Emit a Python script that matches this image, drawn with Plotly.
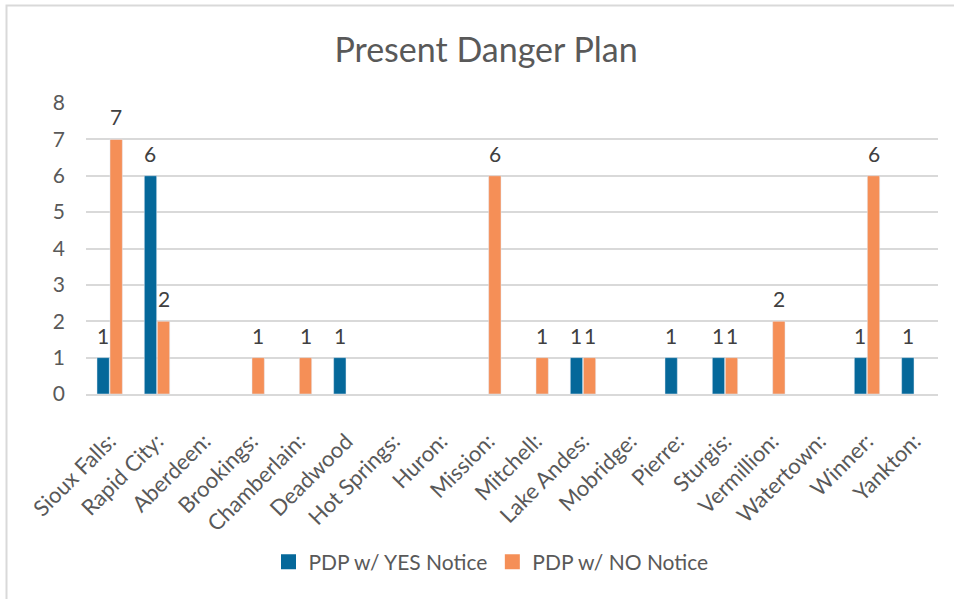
import plotly.graph_objects as go

categories = ["Sioux Falls:", "Rapid City:", "Aberdeen:", "Brookings:", "Chamberlain:", "Deadwood",
              "Hot Springs:", "Huron:", "Mission:", "Mitchell:", "Lake Andes:", "Mobridge:",
              "Pierre:", "Sturgis:", "Vermillion:", "Watertown:", "Winner:", "Yankton:"]
yes_notice = [1, 6, None, None, None, 1, None, None, None, None, 1, None, 1, 1, None, None, 1, 1]
no_notice = [7, 2, None, 1, 1, None, None, None, 6, 1, 1, None, None, 1, 2, None, 6, None]
series_names = ["PDP w/ YES Notice", "PDP w/ NO Notice"]
series_colors = ["#05689A", "#F58F57"]
title_text = "Present Danger Plan"

W, H = 954, 599
L, R, T, B = 86, 938, 103, 394
BARGAP, GROUPGAP = 0.45, 0.05

font_family = "Lato, 'Open Sans', sans-serif"

fig = go.Figure()
for vals, name, col in zip([yes_notice, no_notice], series_names, series_colors):
    fig.add_trace(go.Bar(x=categories, y=vals, name=name, marker_color=col,
                         showlegend=False, hoverinfo="x+y+name"))
    # legend entries with square swatches
    fig.add_trace(go.Scatter(x=[None], y=[None], mode="markers", name=name,
                             marker=dict(symbol="square", size=15, color=col)))

def px(x):
    return (x - L) / (R - L)

def py(y):
    return (B - y) / (B - T)

# data labels placed at data coordinates of each bar
cat_w = (R - L) / len(categories)
off = cat_w * (1 - BARGAP) / 4
annotations = []
for vals, sign in [(yes_notice, -1), (no_notice, 1)]:
    for c, v in zip(categories, vals):
        if v is None:
            continue
        annotations.append(dict(x=c, y=v, xref="x", yref="y", text=str(v), showarrow=False,
                                xanchor="center", yanchor="bottom", xshift=sign * off, yshift=8,
                                font=dict(size=21, color="#404040", family=font_family)))

fig.update_layout(
    width=W, height=H, autosize=False,
    margin=dict(l=L, r=W - R, t=T, b=H - B, autoexpand=False),
    paper_bgcolor="white", plot_bgcolor="white",
    font=dict(family=font_family, color="#595959", size=20),
    title=dict(text=title_text, x=486 / W, xref="container", y=1 - 50 / H, yref="container",
               xanchor="center", yanchor="middle",
               font=dict(size=34, color="#595959", family=font_family)),
    barmode="group", bargap=BARGAP, bargroupgap=GROUPGAP,
    xaxis=dict(tickangle=-45, showgrid=False, showline=True, linecolor="#D9D9D9", linewidth=1.5,
               ticks="", ticklabelstandoff=24, tickfont=dict(size=22, color="#595959"),
               fixedrange=True, automargin=False),
    yaxis=dict(range=[0, 8], dtick=1, showgrid=True, gridcolor="#D9D9D9", gridwidth=1.5,
               zeroline=False, showline=False, ticks="", ticklabelstandoff=20,
               tickfont=dict(size=21, color="#595959"), fixedrange=True, automargin=False),
    legend=dict(orientation="h", x=px(491), xanchor="center",
                y=py(562), yanchor="middle", itemsizing="trace",
                font=dict(size=21, color="#595959"), itemwidth=30, traceorder="normal"),
    annotations=annotations,
    shapes=[dict(type="rect", xref="paper", yref="paper",
                 x0=px(6.5), x1=px(970), y0=py(620), y1=py(5.5),
                 line=dict(color="#D9D9D9", width=2), fillcolor="rgba(0,0,0,0)", layer="below")],
)

fig.write_html("out.html", config={"displayModeBar": False},
               post_script="document.body.style.margin='0';document.body.style.padding='0';")
